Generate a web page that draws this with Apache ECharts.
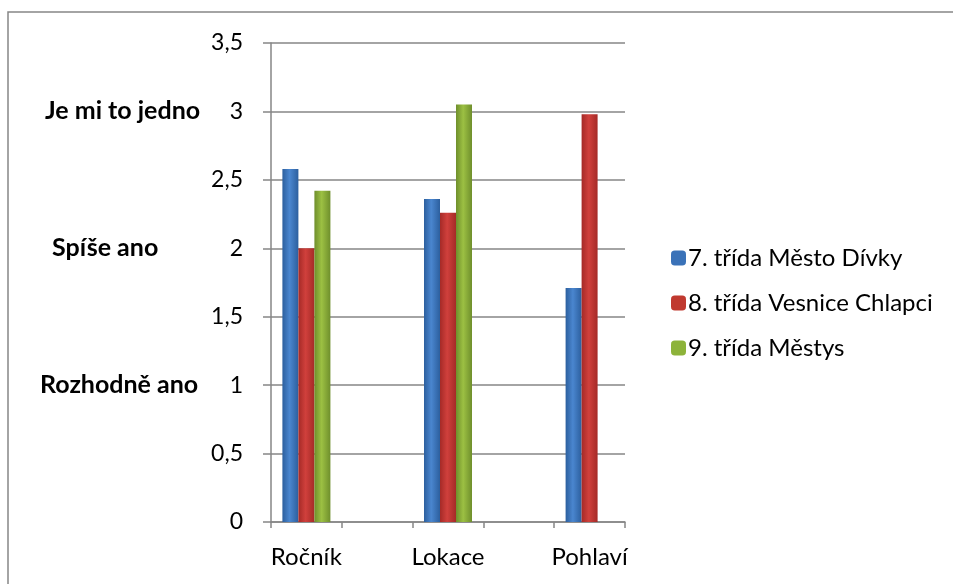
<!DOCTYPE html>
<html>
<head>
<meta charset="utf-8">
<script src="https://cdn.jsdelivr.net/npm/echarts@6/dist/echarts.min.js"></script>
<style>
  html, body { margin: 0; padding: 0; background: #fff; }
  #chart { width: 953px; height: 584px; }
</style>
</head>
<body>
<div id="chart"></div>
<script>
// categories (empty slots are the gaps between groups)
const categories = ['Ročník', '', 'Lokace', '', 'Pohlaví']
const seriesNames = ['7. třída Město Dívky', '8. třída Vesnice Chlapci', '9. třída Městys']
const mestoDivky = [2.58, '-', 2.36, '-', 1.71]
const vesniceChlapci = [2.0, '-', 2.26, '-', 2.98]
const mestys = [2.42, '-', 3.05, '-', '-']
// verbal labels on the left side
const verbalLabels = { 1: 'Rozhodně ano', 2: 'Spíše ano', 3: 'Je mi to jedno' }
const verbalStyle = { 1: 'c', 2: 'b', 3: 'a' }

const chart = echarts.init(document.getElementById('chart'))

const grad = (dark, light) => new echarts.graphic.LinearGradient(0, 0, 1, 0, [
  { offset: 0, color: dark },
  { offset: 0.45, color: light },
  { offset: 1, color: dark }
])

const colors = [
  grad('#2c5f9e', '#4a86cf'),
  grad('#a52a27', '#d0403c'),
  grad('#6f8f2c', '#9cc043')
]
const flat = ['#3a72b8', '#c0392f', '#8db33a']

const font = 'Lato'
const bold = { fontFamily: font, fontSize: 25, fontWeight: 'bold', color: '#000' }

const option = {
  animation: false,
  textStyle: { fontFamily: font },
  graphic: [{
    type: 'rect',
    shape: { x: 8, y: 12, width: 1000, height: 700 },
    style: { fill: 'none', stroke: '#868686', lineWidth: 1.5 }
  }],
  legend: {
    orient: 'vertical',
    left: 666,
    top: 241,
    itemWidth: 15,
    itemHeight: 15,
    itemGap: 21,
    textStyle: { fontFamily: font, fontSize: 24, lineHeight: 22, color: '#000', padding: [0, 0, 0, -3] },
    data: seriesNames.map((n, i) => ({ name: n, itemStyle: { color: flat[i] } }))
  },
  grid: { left: 271, right: 328, top: 43, bottom: 62 },
  xAxis: {
    type: 'category',
    data: categories,
    axisLine: { lineStyle: { color: '#868686', width: 1.5 } },
    axisTick: { show: true, length: 6, lineStyle: { color: '#868686', width: 1.5 } },
    axisLabel: { color: '#000', fontSize: 24, margin: 23, interval: 0 }
  },
  yAxis: [{
    type: 'value',
    min: 0,
    max: 3.5,
    interval: 0.5,
    axisLine: { show: true, lineStyle: { color: '#868686', width: 1.5 } },
    axisTick: { show: true, length: 8, lineStyle: { color: '#868686', width: 1.5 } },
    splitLine: { lineStyle: { color: '#868686', width: 1.5 } },
    axisLabel: {
      color: '#000', fontSize: 23, margin: 28,
      formatter: v => String(v).replace('.', ',')
    }
  }, {
    type: 'value',
    position: 'left',
    min: 0,
    max: 3.5,
    interval: 0.5,
    offset: 223,
    axisLine: { show: false },
    axisTick: { show: false },
    splitLine: { show: false },
    axisLabel: {
      align: 'left',
      margin: 8,
      formatter: v => verbalLabels[v] ? '{' + verbalStyle[v] + '|' + verbalLabels[v] + '}' : '',
      rich: {
        a: Object.assign({ padding: [0, 0, 0, 5] }, bold),
        b: Object.assign({ padding: [0, 0, 0, 12] }, bold),
        c: Object.assign({ padding: [0, 0, 0, 0] }, bold)
      }
    }
  }],
  series: [mestoDivky, vesniceChlapci, mestys].map((d, i) => ({
    name: seriesNames[i],
    type: 'bar',
    data: d,
    barWidth: 16,
    barGap: '0%',
    itemStyle: { color: colors[i] }
  }))
}

chart.setOption(option)
</script>
</body>
</html>
